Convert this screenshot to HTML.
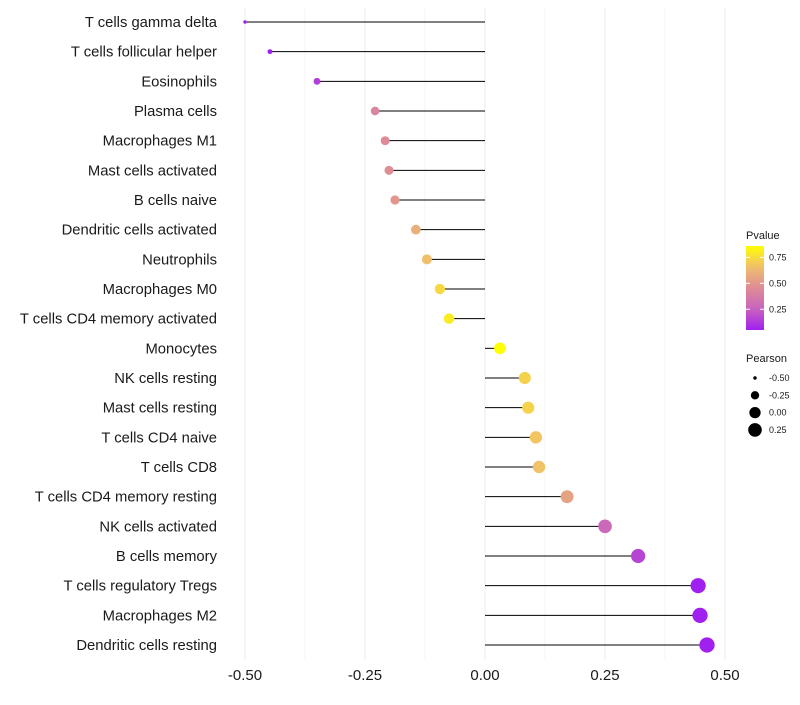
<!DOCTYPE html>
<html><head><meta charset="utf-8"><style>
body{margin:0;background:#fff;}
svg text{font-family:"Liberation Sans",sans-serif;}
</style></head><body>
<svg id="chart" width="800" height="700" xmlns="http://www.w3.org/2000/svg"></svg>
<script>
const categories=["T cells gamma delta","T cells follicular helper","Eosinophils","Plasma cells","Macrophages M1","Mast cells activated","B cells naive","Dendritic cells activated","Neutrophils","Macrophages M0","T cells CD4 memory activated","Monocytes","NK cells resting","Mast cells resting","T cells CD4 naive","T cells CD8","T cells CD4 memory resting","NK cells activated","B cells memory","T cells regulatory  Tregs ","Macrophages M2","Dendritic cells resting"];
const pearson=[-0.50,-0.448,-0.35,-0.229,-0.208,-0.20,-0.1875,-0.144,-0.121,-0.094,-0.075,0.031,0.083,0.090,0.106,0.1125,0.171,0.25,0.319,0.444,0.448,0.4625];
const pvalues=[0.02,0.04,0.14,0.42,0.45,0.46,0.50,0.60,0.66,0.74,0.80,0.86,0.72,0.72,0.68,0.67,0.55,0.28,0.16,0.05,0.05,0.05];
const xTicks=[-0.5,-0.25,0,0.25,0.5];
const xTickLabels=["-0.50","-0.25","0.00","0.25","0.50"];
const pTicks=[0.25,0.5,0.75];
const sizeTicks=[-0.5,-0.25,0,0.25];

const NS="http://www.w3.org/2000/svg";
const svg=document.getElementById('chart');
const X=v=>485+v*480;
const Y=i=>22+i*(623/21);
const R=v=>Math.sqrt(3+58*Math.max(0,v+0.5));
const pMin=0.05,pMax=0.86;
function lerp(a,b,t){return a.map((x,k)=>Math.round(x+(b[k]-x)*t));}
function col(p){let t=Math.max(0,Math.min(1,(p-pMin)/(pMax-pMin)));
 const s=[[160,32,240],[200,100,190],[222,140,150],[240,190,110],[255,255,0]];
 const f=t*4,i=Math.min(3,Math.floor(f));const c=lerp(s[i],s[i+1],f-i);return `rgb(${c[0]},${c[1]},${c[2]})`;}
function el(tag,attrs,parent){const e=document.createElementNS(NS,tag);for(const k in attrs)e.setAttribute(k,attrs[k]);(parent||svg).appendChild(e);return e;}

for(let v=-0.5;v<=0.5001;v+=0.125){
 const g=el('line',{x1:X(v),x2:X(v),y1:8,y2:660,stroke:'#ebebeb','stroke-width':Math.abs((v*4)%1)<0.01?1:0.5});
 
 
}
categories.forEach((c,i)=>{
 const t=el('text',{x:217,y:Y(i)+5,'text-anchor':'end','font-size':14.8,fill:'#1a1a1a'});t.textContent=c;
 
 
 const l=el('line',{x1:X(0),x2:X(pearson[i]),y1:Y(i),y2:Y(i),stroke:'#000','stroke-width':1});
 
 
 const d=el('circle',{cx:X(pearson[i]),cy:Y(i),r:R(pearson[i]),fill:col(pvalues[i])});
 
 
});
xTicks.forEach((v,i)=>{
 const t=el('text',{x:X(v),y:680,'text-anchor':'middle','font-size':15,fill:'#1a1a1a'});t.textContent=xTickLabels[i];
 
 
});
const lt=el('text',{x:746,y:239,'font-size':11,fill:'#1a1a1a'});lt.textContent='Pvalue';


const defs=el('defs',{});
const gr=el('linearGradient',{id:'pg',x1:0,y1:1,x2:0,y2:0},defs);
for(let k=0;k<=10;k++){el('stop',{offset:k/10,'stop-color':col(pMin+(pMax-pMin)*k/10)},gr);}
const cb=el('rect',{x:746,y:246,width:18,height:84,fill:'url(#pg)'});


const PY=p=>330-(p-pMin)/(pMax-pMin)*84;
pTicks.forEach(p=>{
 el('line',{x1:746,x2:750,y1:PY(p),y2:PY(p),stroke:'#fff'});el('line',{x1:760,x2:764,y1:PY(p),y2:PY(p),stroke:'#fff'});
 const t=el('text',{x:769,y:PY(p)+3,'font-size':9,fill:'#1a1a1a'});t.textContent=p.toFixed(2);
 
 
});
const st=el('text',{x:746,y:362,'font-size':11,fill:'#1a1a1a'});st.textContent='Pearson';


sizeTicks.forEach((v,i)=>{
 const y=378+i*17.3;
 const c=el('circle',{cx:755,cy:y,r:R(v),fill:'#000'});
 
 
 const t=el('text',{x:769,y:y+3,'font-size':9,fill:'#1a1a1a'});t.textContent=v.toFixed(2);
 
 
});
</script>
</body></html>
